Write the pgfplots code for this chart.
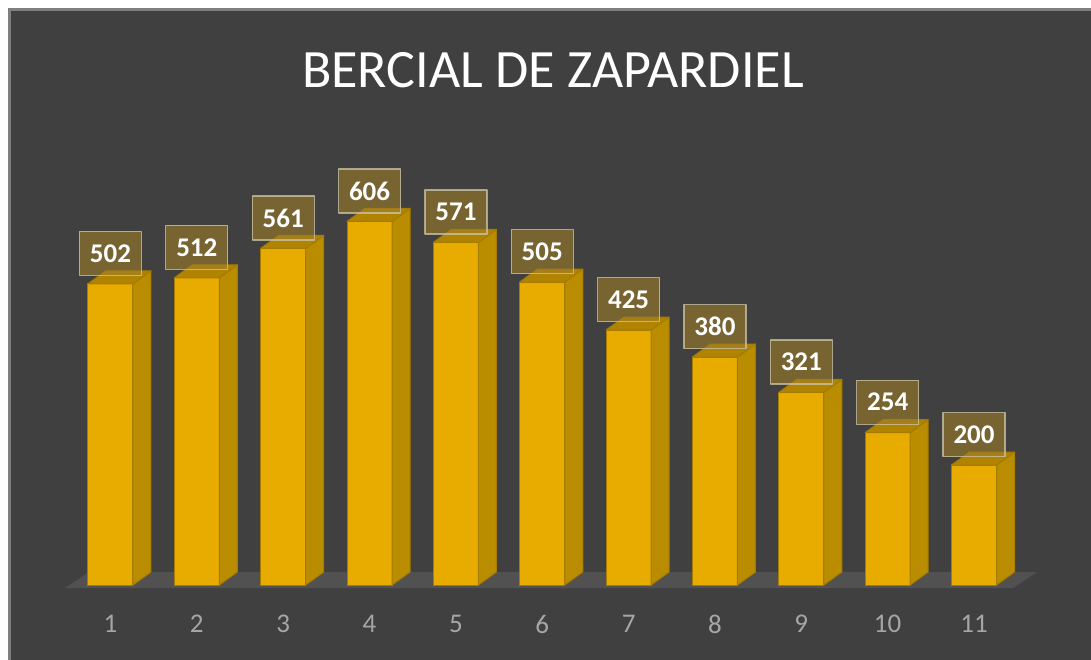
\documentclass[border=0pt]{standalone}
\usepackage{pgfplots}
\pgfplotsset{compat=1.18}
\usepackage{pgfplotstable}
\usepackage{fontspec}
\setmainfont{Carlito}

\definecolor{bg}{HTML}{404040}
\definecolor{frame}{HTML}{7F7F7F}
\definecolor{floorcol}{HTML}{515151}
\definecolor{barfront}{HTML}{E8AC00}
\definecolor{barside}{HTML}{BA8C00}
\definecolor{bartop}{HTML}{B08400}
\definecolor{baredge}{HTML}{A67C00}
\definecolor{lblfill}{RGB}{158,124,40}
\definecolor{lbledge}{HTML}{C9C0A2}
\definecolor{tickgray}{HTML}{A6A6A6}

% top and side faces of a 3d bar; height comes from the data value (0.3pt per unit)
\pgfdeclareplotmark{bar3d}{%
    \pgfkeys{/pgf/fpu=true,/pgf/fpu/output format=fixed}%
    \pgfmathsetmacro\hh{0.3*\rawy}%
    \pgfkeys{/pgf/fpu=false}%
    \pgfsetlinewidth{0.5pt}%
    \pgfsetroundjoin
    \pgfsetstrokecolor{baredge}%
    \pgfpathmoveto{\pgfpoint{11.25pt}{0pt}}%
    \pgfpathlineto{\pgfpoint{20.25pt}{6.5pt}}%
    \pgfpathlineto{\pgfpoint{20.25pt}{6.5pt-\hh pt}}%
    \pgfpathlineto{\pgfpoint{11.25pt}{-\hh pt}}%
    \pgfpathclose
    \pgfsetfillcolor{barside}%
    \pgfusepath{fill,stroke}%
    \pgfpathmoveto{\pgfpoint{-11.25pt}{0pt}}%
    \pgfpathlineto{\pgfpoint{-2.25pt}{6.5pt}}%
    \pgfpathlineto{\pgfpoint{20.25pt}{6.5pt}}%
    \pgfpathlineto{\pgfpoint{11.25pt}{0pt}}%
    \pgfpathclose
    \pgfsetfillcolor{bartop}%
    \pgfusepath{fill,stroke}%
}

\pgfplotstableread{
x y
1 502
2 512
3 561
4 606
5 571
6 505
7 425
8 380
9 321
10 254
11 200
}\datatable

\begin{document}
\begin{tikzpicture}
\clip (0pt,0pt) rectangle (545.5pt,329.5pt);
\fill[white] (0pt,0pt) rectangle (545.5pt,329.5pt);
\fill[bg] (4.75pt,-5pt) rectangle (550pt,324.75pt);
\draw[frame, line width=1.25pt] (4.75pt,-5pt) -- (4.75pt,324.75pt) -- (550pt,324.75pt);
% floor
\fill[floorcol] (32.5pt,35.5pt) -- (506.5pt,35.5pt) -- (518.5pt,43.5pt) -- (44.5pt,43.5pt) -- cycle;
\node[text=white, font=\fontsize{27}{32}\selectfont] at (276.5pt,294.5pt) {BERCIAL DE ZAPARDIEL};

\begin{axis}[
    at={(33.65pt,37pt)}, anchor=south west,
    scale only axis,
    width=474.95pt, height=210pt,
    xmin=0.5, xmax=11.5,
    ymin=0, ymax=700,
    clip=false,
    axis line style={draw=none},
    major tick length=0pt,
    ytick=\empty,
    xtick={1,...,11},
    xticklabel style={text=tickgray, font=\fontsize{13.5}{16}\selectfont,
        anchor=center, yshift=-19.5pt},
    /pgf/number format/assume math mode=true,
]
% front faces
\addplot[ybar, bar width=22.5pt, fill=barfront, draw=baredge, line width=0.5pt]
    table[x=x, y=y] {\datatable};

% top and side faces, plus value labels
\addplot[only marks, mark=bar3d,
    visualization depends on={rawy \as \rawy},
    nodes near coords,
    nodes near coords style={anchor=center, yshift=15.25pt,
        fill=lblfill, fill opacity=0.6, text opacity=1, text=white,
        draw=lbledge, draw opacity=0.8, line width=0.6pt,
        minimum width=31pt, minimum height=22pt, inner sep=0pt,
        font=\bfseries\fontsize{13.5}{16}\selectfont},
] table[x=x, y=y] {\datatable};
\end{axis}
\end{tikzpicture}
\end{document}
